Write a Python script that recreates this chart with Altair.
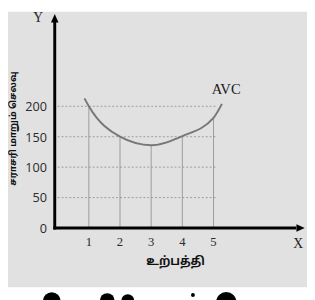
import altair as alt
import pandas as pd

# data
curve_q = [0.86, 1, 2, 3, 4, 5, 5.27]
curve_avc = [213, 200, 150, 136, 151, 181, 204]
grid_q = [1, 2, 3, 4, 5]
grid_avc = [200, 150, 136, 151, 181]
y_ticks = [0, 50, 100, 150, 200]
x_ticks = [1, 2, 3, 4, 5]

xs = alt.Scale(domain=[-0.094, 8.0], nice=False, zero=False)
ys = alt.Scale(domain=[0, 352], nice=False, zero=False)

curve_df = pd.DataFrame({"q": curve_q, "avc": curve_avc})
vgrid_df = pd.DataFrame({"q": grid_q, "avc": grid_avc, "z": [0] * 5})
hgrid_df = pd.DataFrame({"v": y_ticks[1:], "x0": [0] * 4, "x1": [5.1] * 4})
ylab_df = pd.DataFrame({"v": y_ticks, "t": [str(v) for v in y_ticks]})
xlab_df = pd.DataFrame({"q": x_ticks, "t": [str(v) for v in x_ticks]})
one_df = pd.DataFrame({"a": [0]})

# paper background and white strip at the bottom of the photo
paper = alt.Chart(one_df).mark_rect(color="#e1e1e1", clip=False).encode(
    x=alt.value(-48), x2=alt.value(259), y=alt.value(-2), y2=alt.value(281))
strip = alt.Chart(one_df).mark_rect(color="white", clip=False).encode(
    x=alt.value(-48), x2=alt.value(259), y=alt.value(281), y2=alt.value(292))

hgrid = alt.Chart(hgrid_df).mark_rule(color="#8a8a8a", strokeWidth=0.8, strokeDash=[2, 2]).encode(
    x=alt.X("x0:Q", scale=xs, axis=None), x2="x1:Q", y=alt.Y("v:Q", scale=ys, axis=None))

vgrid = alt.Chart(vgrid_df).mark_rule(color="#8a8a8a", strokeWidth=0.8).encode(
    x=alt.X("q:Q", scale=xs, axis=None), y=alt.Y("z:Q", scale=ys, axis=None), y2="avc:Q")

curve = alt.Chart(curve_df).mark_line(color="#777777", strokeWidth=2, interpolate="monotone").encode(
    x=alt.X("q:Q", scale=xs, axis=None), y=alt.Y("avc:Q", scale=ys, axis=None))

ylabels = alt.Chart(ylab_df).mark_text(align="right", baseline="middle", font="Open Sans",
                                       fontSize=13, color="#2a2a2a", dx=-1, dy=1).encode(
    x=alt.value(-7), y=alt.Y("v:Q", scale=ys, axis=None), text="t:N")

xlabels = alt.Chart(xlab_df).mark_text(align="center", baseline="middle", font="Liberation Serif",
                                       fontSize=13, color="#2a2a2a").encode(
    x=alt.X("q:Q", scale=xs, axis=None), y=alt.value(234), text="t:N")

yaxis = alt.Chart(one_df).mark_rule(color="black", strokeWidth=3).encode(
    x=alt.value(0), y=alt.value(221.5), y2=alt.value(8))
xaxis = alt.Chart(one_df).mark_rule(color="black", strokeWidth=3).encode(
    x=alt.value(-1.5), x2=alt.value(248), y=alt.value(220))
yarrow = alt.Chart(one_df).mark_point(shape="M-1,1L0,-1.2L1,1Z", filled=True, color="black",
                                      opacity=1, size=60).encode(x=alt.value(0), y=alt.value(5))
xarrow = alt.Chart(one_df).mark_point(shape="M-1,-1L1.2,0L-1,1Z", filled=True, color="black",
                                      opacity=1, size=60).encode(x=alt.value(252), y=alt.value(220))

ylab = alt.Chart(one_df).mark_text(font="Liberation Serif", fontSize=14, color="#222").encode(
    x=alt.value(-17), y=alt.value(4), text=alt.value("Y"))
xlab = alt.Chart(one_df).mark_text(font="Liberation Serif", fontSize=14, color="#222").encode(
    x=alt.value(250), y=alt.value(237), text=alt.value("X"))
avc = alt.Chart(one_df).mark_text(font="Liberation Serif", fontSize=15, color="#1a1a1a").encode(
    x=alt.value(176), y=alt.value(77), text=alt.value("AVC"))
ytitle = alt.Chart(one_df).mark_text(font="Noto Sans Tamil", fontSize=9.5, fontWeight="bold",
                                     color="#111", angle=270, baseline="middle").encode(
    x=alt.value(-43), y=alt.value(118), text=alt.value("சராசரி மாறும் செலவு"))
xtitle = alt.Chart(one_df).mark_text(font="Noto Sans Tamil", fontSize=12, fontWeight="bold",
                                     color="#111").encode(
    x=alt.value(124), y=alt.value(254), text=alt.value("உற்பத்தி"))

# cropped tops of large glyphs at the very bottom
blob_df = pd.DataFrame({"bx": [-0.19, 1.59, 2.25, 4.34, 5.41],
                        "by": [-120.0, -119.0, -119.0, -110.0, -122.0],
                        "bs": [324, 225, 169, 16, 441]})
blobs = alt.Chart(blob_df).mark_point(shape="circle", filled=True, color="black", opacity=1,
                                      clip=False).encode(
    x=alt.X("bx:Q", scale=xs, axis=None),
    y=alt.Y("by:Q", scale=ys, axis=None),
    size=alt.Size("bs:Q", scale=None, legend=None))

chart = alt.layer(paper, strip, hgrid, vgrid, curve, ylabels, xlabels, yaxis, xaxis, yarrow, xarrow,
                  ylab, xlab, avc, ytitle, xtitle, blobs).properties(
    width=259, height=220,
    padding={"left": 48, "top": 2, "right": 0, "bottom": 70},
    autosize=alt.AutoSizeParams(type="none")).configure_view(stroke=None)

chart.save("out.html", embed_options={"renderer": "svg", "actions": False})
